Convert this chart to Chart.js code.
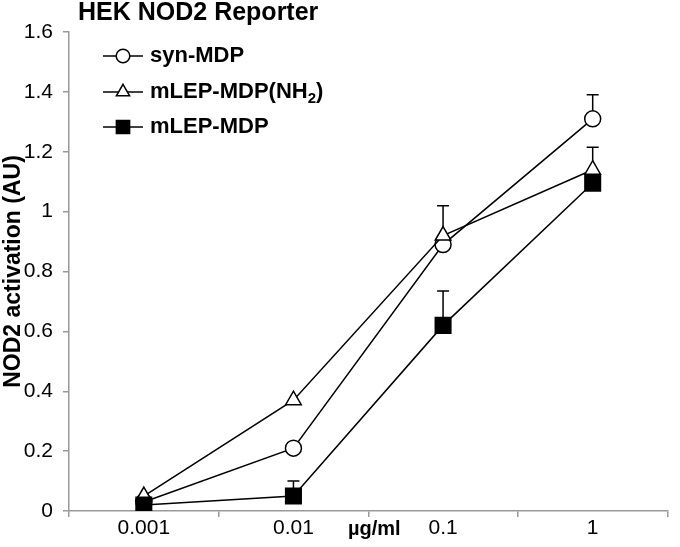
<!DOCTYPE html>
<html>
<head>
<meta charset="utf-8">
<script src="https://cdn.jsdelivr.net/npm/chart.js@4.4.1/dist/chart.umd.min.js"></script>
<style>
  html, body { margin: 0; padding: 0; background: #fff; }
  #wrap { width: 680px; height: 547px; }
</style>
</head>
<body>
<div id="wrap"><canvas id="chart" width="680" height="547"></canvas></div>
<script>
// dose categories (ug/ml)
var doses = ['0.001', '0.01', '0.1', '1'];
var yTicks = [0, 0.2, 0.4, 0.6, 0.8, 1, 1.2, 1.4, 1.6];

// NOD2 activation (AU) + upper error
var synMDP = [0.03, 0.21, 0.89, 1.31];
var synMDPErr = [0, 0, 0, 0.08];
var mlepNH2 = [0.05, 0.37, 0.92, 1.14];
var mlepNH2Err = [0, 0, 0.10, 0.075];
var mlepMDP = [0.02, 0.05, 0.62, 1.095];
var mlepMDPErr = [0, 0.05, 0.115, 0];

var FONT = '"Liberation Sans", Arial, sans-serif';
var AXIS = '#999999';

function marker(ctx, style, x, y, r, fill) {
  ctx.save();
  ctx.lineWidth = 1.5;
  ctx.strokeStyle = '#000';
  ctx.fillStyle = fill;
  ctx.beginPath();
  if (style === 'circle') {
    ctx.arc(x, y, r, 0, Math.PI * 2);
  } else if (style === 'triangle') {
    var a = 0;
    ctx.moveTo(x + Math.sin(a) * r, y - Math.cos(a) * r);
    a += Math.PI * 2 / 3;
    ctx.lineTo(x + Math.sin(a) * r, y - Math.cos(a) * r);
    a += Math.PI * 2 / 3;
    ctx.lineTo(x + Math.sin(a) * r, y - Math.cos(a) * r);
    ctx.closePath();
  } else {
    var s = r * Math.SQRT1_2;
    ctx.rect(x - s, y - s, 2 * s, 2 * s);
  }
  ctx.fill();
  ctx.stroke();
  ctx.restore();
}

var errorBars = {
  id: 'errorBars',
  beforeDatasetsDraw: function(chart) {
    var ctx = chart.ctx;
    var xs = chart.scales.x, ys = chart.scales.y;
    ctx.save();
    ctx.strokeStyle = '#000';
    ctx.lineWidth = 1.5;
    chart.data.datasets.forEach(function(ds) {
      ds.data.forEach(function(v, i) {
        var e = ds.err[i];
        if (!e) return;
        var x = xs.getPixelForValue(i);
        var y0 = ys.getPixelForValue(v);
        var y1 = ys.getPixelForValue(v + e);
        ctx.beginPath();
        ctx.moveTo(x, y0);
        ctx.lineTo(x, y1);
        ctx.moveTo(x - 6, y1);
        ctx.lineTo(x + 6, y1);
        ctx.stroke();
      });
    });
    ctx.restore();
  }
};

var decorations = {
  id: 'decorations',
  afterDraw: function(chart) {
    var ctx = chart.ctx;
    var xs = chart.scales.x;
    ctx.save();
    // title
    ctx.fillStyle = '#000';
    ctx.textBaseline = 'alphabetic';
    ctx.textAlign = 'left';
    ctx.font = 'bold 25px ' + FONT;
    ctx.fillText('HEK NOD2 Reporter', 78, 20);

    // x axis unit, near the axis centre at tick label height
    ctx.textAlign = 'center';
    ctx.textBaseline = 'middle';
    ctx.font = 'bold 20px ' + FONT;
    ctx.fillText('\u00b5g/ml', (xs.left + xs.right) / 2 + 6, 529);

    // legend
    var rows = [56, 92, 127];
    ctx.textAlign = 'left';
    chart.data.datasets.forEach(function(ds, j) {
      var y = rows[j];
      ctx.strokeStyle = '#000';
      ctx.lineWidth = 1.5;
      ctx.beginPath();
      ctx.moveTo(103, y);
      ctx.lineTo(143, y);
      ctx.stroke();
      marker(ctx, ds.pointStyle, 123, y, ds.pointRadius * 0.85, ds.pointBackgroundColor);
      ctx.fillStyle = '#000';
      var x = 150;
      ds.legendParts.forEach(function(p) {
        if (p.sub) {
          ctx.font = 'bold 15px ' + FONT;
          ctx.fillText(p.t, x, y + 7);
        } else {
          ctx.font = 'bold 22px ' + FONT;
          ctx.fillText(p.t, x, y);
        }
        x += ctx.measureText(p.t).width;
      });
    });
    ctx.restore();
  }
};

new Chart(document.getElementById('chart'), {
  type: 'line',
  data: {
    labels: doses,
    datasets: [
      {
        label: 'syn-MDP',
        legendParts: [{ t: 'syn-MDP' }],
        data: synMDP, err: synMDPErr,
        order: 3,
        borderColor: '#000', borderWidth: 1.5,
        pointStyle: 'circle', pointRadius: 8,
        pointBackgroundColor: '#fff', pointBorderColor: '#000', pointBorderWidth: 1.5
      },
      {
        label: 'mLEP-MDP(NH2)',
        legendParts: [{ t: 'mLEP-MDP(NH' }, { t: '2', sub: true }, { t: ')' }],
        data: mlepNH2, err: mlepNH2Err,
        order: 2,
        borderColor: '#000', borderWidth: 1.5,
        pointStyle: 'triangle', pointRadius: 9,
        pointBackgroundColor: '#fff', pointBorderColor: '#000', pointBorderWidth: 1.5
      },
      {
        label: 'mLEP-MDP',
        legendParts: [{ t: 'mLEP-MDP' }],
        data: mlepMDP, err: mlepMDPErr,
        order: 1,
        borderColor: '#000', borderWidth: 1.5,
        pointStyle: 'rect', pointRadius: 11,
        pointBackgroundColor: '#000', pointBorderColor: '#000', pointBorderWidth: 1.5
      }
    ]
  },
  options: {
    responsive: false,
    animation: false,
    layout: { padding: { top: 32, right: 1, bottom: 0, left: 0 } },
    plugins: { legend: { display: false }, tooltip: { enabled: false } },
    elements: { line: { tension: 0 } },
    scales: {
      x: {
        offset: true,
        grid: { offset: true, drawOnChartArea: false, tickLength: 6, color: AXIS, lineWidth: 1.5 },
        border: { color: AXIS, width: 1.5 },
        ticks: { color: '#000', font: { family: FONT, size: 21 }, padding: -1, maxRotation: 0 },
        afterFit: function(s) { s.height = 36; }
      },
      y: {
        min: 0, max: 1.6,
        afterBuildTicks: function(s) { s.ticks = yTicks.map(function(v) { return { value: v }; }); },
        grid: { drawOnChartArea: false, tickLength: 6, color: AXIS, lineWidth: 1.5 },
        border: { color: AXIS, width: 1.5 },
        ticks: { color: '#000', font: { family: FONT, size: 21 }, padding: 10,
                 callback: function(v) { return String(v); } },
        title: { display: true, text: 'NOD2 activation (AU)', color: '#000',
                 font: { family: FONT, size: 23, weight: 'bold' }, padding: { top: 0, bottom: 0 } },
        afterFit: function(s) { s.width = 69; }
      }
    }
  },
  plugins: [errorBars, decorations]
});
</script>
</body>
</html>
